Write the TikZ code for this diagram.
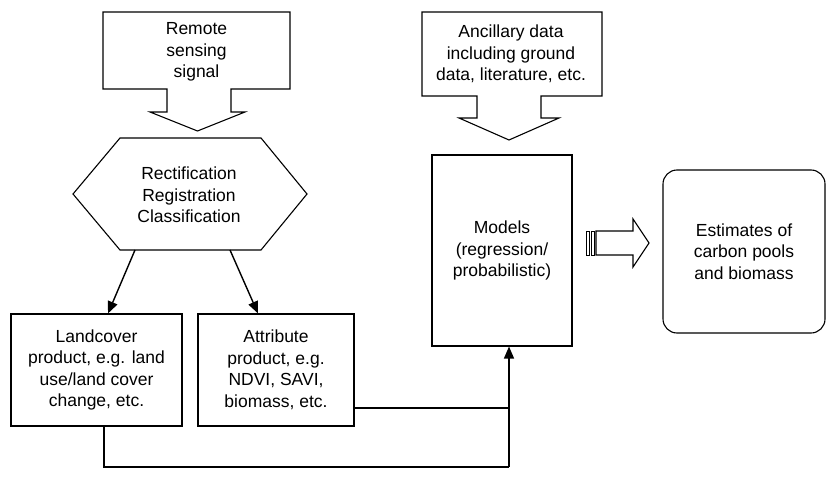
\documentclass[tikz,border=0pt]{standalone}
\usepackage{fontspec}
\setmainfont{Liberation Sans}
\usetikzlibrary{arrows.meta}
\begin{document}
\begin{tikzpicture}[x=1pt,y=-1pt,
  outline/.style={draw=black,line width=1.1pt,line join=miter},
  lbl/.style={align=center,font=\fontsize{17.5}{21.5}\selectfont,inner sep=0pt},
  box/.style={outline,lbl,rectangle},
  link/.style={draw=black,line width=1.4pt},
  conn/.style={link,-{Triangle[length=12pt,width=10pt]}}]
\useasboundingbox (0,0) rectangle (826,476);

% Remote sensing signal: box with a downward arrow
\draw[outline] (103,12) -- (290,12) -- (290,89) -- (231,89) -- (231,112)
  -- (245,112) -- (197.5,131) -- (150,112) -- (167,112) -- (167,89)
  -- (103,89) -- cycle;
\node[lbl] (rs) at (196.5,52) {Remote\\sensing\\signal};

% Pre-processing hexagon
\draw[outline] (120,138) coordinate (hexTL) -- (261,138) -- (307,194)
  -- (261,250) coordinate (hexBR) -- (120,250) coordinate (hexBL)
  -- (73,194) -- cycle;
\node[lbl] (hex) at (189,195) {Rectification\\Registration\\Classification};
\coordinate (hexOutL) at (135,250);
\coordinate (hexOutR) at (230,250);

% Ancillary data: box with a downward arrow
\draw[outline] (422,12) -- (602,12) -- (602,96) -- (541,96) -- (541,118)
  -- (559,118) -- (509,140) -- (459,118) -- (477,118) -- (477,96)
  -- (422,96) -- cycle;
\node[lbl] (anc) at (511,54) {Ancillary data\\including ground\\data, literature, etc.};

% Products
\node[box, minimum width=171pt, minimum height=112pt] (land) at (96.5,370)
  {Landcover\\product, e.g. land\\use/land cover\\change, etc.};
\node[box, minimum width=156pt, minimum height=112pt] (attr) at (276,370)
  {Attribute\\product, e.g.\\NDVI, SAVI,\\biomass, etc.};

% Models
\node[box, minimum width=140pt, minimum height=191pt] (models) at (502,250.5)
  {Models\\(regression/\\probabilistic)};

% Estimates
\node[box, rounded corners=14pt, minimum width=162pt, minimum height=163pt]
  (est) at (744,251.5) {Estimates of\\carbon pools\\and biomass};

% Striped block arrow from models to estimates
\draw[outline,line width=0.9pt] (586,231) rectangle (589.5,255);
\draw[outline,line width=0.9pt] (591,231) rectangle (594.5,255);
\draw[outline] (596,231) -- (633,231) -- (633,219) -- (649,243)
  -- (633,267) -- (633,255) -- (596,255) -- cycle;

% Connectors
\draw[conn] (hexOutL) -- ([xshift=11.5pt]land.north);
\draw[conn] (hexOutR) -- ([xshift=-18pt]attr.north);

\coordinate (corner) at (509,467);
\path ([yshift=-38pt]attr.east) coordinate (aOut);
\draw[link] ([xshift=7.5pt]land.south) |- (corner);
\draw[link] (aOut) -- (aOut -| corner);
\draw[conn] (corner) -- ([xshift=7pt]models.south);
\end{tikzpicture}
\end{document}
